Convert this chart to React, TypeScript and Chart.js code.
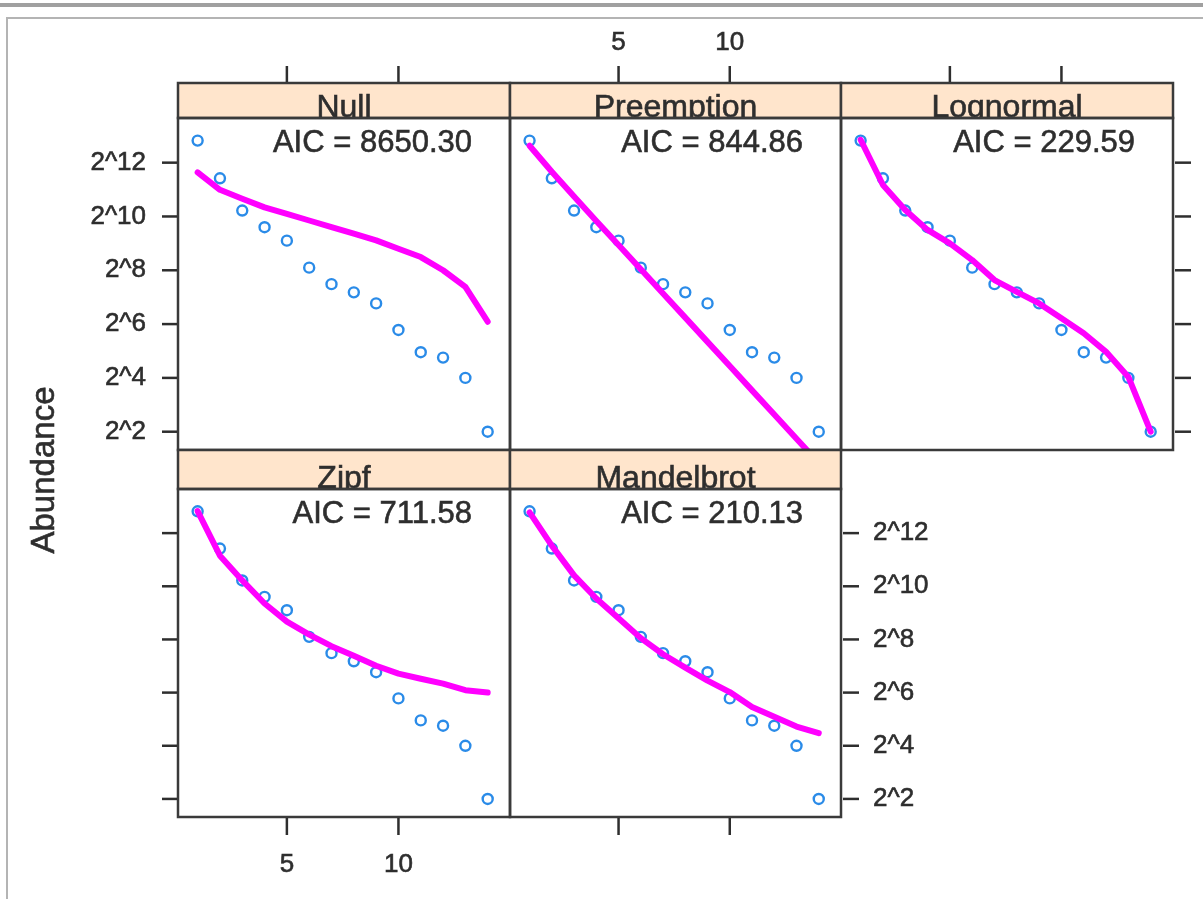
import React, { useEffect, useRef } from "react";
import { Chart, registerables } from "chart.js";
Chart.register(...registerables);

// ---------------- data ----------------
const ranks = [1, 2, 3, 4, 5, 6, 7, 8, 9, 10, 11, 12, 13, 14];
const observedAbundance = [7233, 2740, 1193, 776, 549, 274, 179, 145, 109, 55, 31, 27, 16, 4];
const fitNull = [3191, 2034, 1618, 1296, 1097, 923, 776, 657, 553, 446, 360, 256, 167, 68];
const fitPreemption = [6340, 3236, 1710, 910, 491, 263, 141, 75.6, 40.5, 21.7, 11.6, 6.23, 3.34, 1.79];
const fitLognormal = [7383, 2304, 1209, 724, 512, 333, 199, 147, 109, 74.6, 50.6, 31.3, 16.4, 4];
const fitZipf = [7282, 2273, 1193, 653, 407, 290, 215, 167, 129, 105, 91.8, 81, 68.1, 64];
const fitMandelbrot = [7034, 2957, 1361, 744, 446, 265, 174, 123, 87.4, 64.9, 44, 34.1, 26.4, 22.2];
const modelNames = ["Null", "Preemption", "Lognormal", "Zipf", "Mandelbrot"];
const aicLabels = ["AIC = 8650.30", "AIC = 844.86", "AIC = 229.59", "AIC = 711.58", "AIC = 210.13"];
const xTickValues = [5, 10];
const yTickValues = [4, 16, 64, 256, 1024, 4096];
const yAxisTitle = "Abundance";

// ---------------- layout / style ----------------
const W = 1203;
const H = 899;
const COLS = [178, 510, 841, 1173];
const ROWS = [
  { strip: 83, top: 118, bottom: 450 },
  { strip: 450, top: 489, bottom: 817 },
];
const X_MIN = 0.12;
const X_MAX = 15.0;
const Y_MIN = Math.pow(2, 1.32);
const Y_MAX = Math.pow(2, 13.66);
const FONT = '"Liberation Sans", Arial, Helvetica, sans-serif';
const TEXT = "#2e2e2e";
const BORDER = "#3a3a3a";
const STRIP_FILL = "#ffe5cc";
const POINT_COLOR = "#2a8be8";
const LINE_COLOR = "#ff00ff";

type Side = "none" | "ticks" | "labels";
interface PanelSpec {
  col: number;
  row: number;
  fit: number[];
  name: string;
  aic: string;
  top: Side;
  bottom: Side;
  left: Side;
  right: Side;
}

const PANELS: PanelSpec[] = [
  { col: 0, row: 0, fit: fitNull, name: modelNames[0], aic: aicLabels[0], top: "ticks", bottom: "none", left: "labels", right: "none" },
  { col: 1, row: 0, fit: fitPreemption, name: modelNames[1], aic: aicLabels[1], top: "labels", bottom: "none", left: "none", right: "none" },
  { col: 2, row: 0, fit: fitLognormal, name: modelNames[2], aic: aicLabels[2], top: "ticks", bottom: "none", left: "none", right: "ticks" },
  { col: 0, row: 1, fit: fitZipf, name: modelNames[3], aic: aicLabels[3], top: "none", bottom: "labels", left: "ticks", right: "none" },
  { col: 1, row: 1, fit: fitMandelbrot, name: modelNames[4], aic: aicLabels[4], top: "none", bottom: "ticks", left: "none", right: "labels" },
];

function yLabel(v: number) {
  return "2^" + Math.round(Math.log2(v));
}

function heavyText(ctx: CanvasRenderingContext2D, s: string, x: number, y: number) {
  ctx.fillText(s, x, y);
  ctx.save();
  ctx.lineWidth = 0.6;
  ctx.strokeStyle = ctx.fillStyle as string;
  ctx.strokeText(s, x, y);
  ctx.restore();
}

function drawFrame(ctx: CanvasRenderingContext2D) {
  ctx.save();
  ctx.fillStyle = "#a0a0a0";
  ctx.fillRect(0, 3, W, 4);
  ctx.strokeStyle = "#b4b4b4";
  ctx.lineWidth = 2;
  ctx.beginPath();
  ctx.moveTo(7, H);
  ctx.lineTo(7, 18);
  ctx.lineTo(W, 18);
  ctx.stroke();
  // y axis title
  ctx.translate(45, 470);
  ctx.rotate(-Math.PI / 2);
  ctx.fillStyle = TEXT;
  ctx.font = "33px " + FONT;
  ctx.textAlign = "center";
  ctx.textBaseline = "middle";
  heavyText(ctx, yAxisTitle, 0, 0);
  ctx.restore();
}

function makePlugin(spec: PanelSpec, index: number) {
  return {
    id: "latticePanel" + index,
    beforeDraw(chart: any) {
      if (index === 0) drawFrame(chart.ctx);
    },
    afterDraw(chart: any) {
      const ctx: CanvasRenderingContext2D = chart.ctx;
      const a = chart.chartArea;
      const xs = chart.scales.x;
      const ys = chart.scales.y;
      const g = ROWS[spec.row];
      const w = a.right - a.left;
      const sh = a.top - g.strip;
      ctx.save();
      // strip
      ctx.fillStyle = STRIP_FILL;
      ctx.fillRect(a.left, g.strip, w, sh);
      ctx.save();
      ctx.beginPath();
      ctx.rect(a.left, g.strip, w, sh);
      ctx.clip();
      ctx.fillStyle = TEXT;
      ctx.font = "32px " + FONT;
      ctx.textAlign = "center";
      ctx.textBaseline = "alphabetic";
      heavyText(ctx, spec.name, (a.left + a.right) / 2, a.top - 1.5);
      ctx.restore();
      // borders
      ctx.strokeStyle = BORDER;
      ctx.lineWidth = 2.5;
      ctx.strokeRect(a.left, g.strip, w, sh);
      ctx.strokeRect(a.left, a.top, w, a.bottom - a.top);
      // AIC text
      ctx.fillStyle = TEXT;
      ctx.font = "31px " + FONT;
      ctx.textAlign = "right";
      ctx.textBaseline = "middle";
      heavyText(ctx, spec.aic, a.right - 38, a.top + 25);
      // ticks
      ctx.strokeStyle = TEXT;
      ctx.lineWidth = 2.5;
      ctx.font = "26px " + FONT;
      if (spec.top !== "none") {
        xTickValues.forEach((v) => {
          const px = xs.getPixelForValue(v);
          ctx.beginPath();
          ctx.moveTo(px, g.strip - 1);
          ctx.lineTo(px, g.strip - 17);
          ctx.stroke();
          if (spec.top === "labels") {
            ctx.textAlign = "center";
            ctx.textBaseline = "middle";
            heavyText(ctx, String(v), px, g.strip - 40);
          }
        });
      }
      if (spec.bottom !== "none") {
        xTickValues.forEach((v) => {
          const px = xs.getPixelForValue(v);
          ctx.beginPath();
          ctx.moveTo(px, a.bottom + 1);
          ctx.lineTo(px, a.bottom + 18);
          ctx.stroke();
          if (spec.bottom === "labels") {
            ctx.textAlign = "center";
            ctx.textBaseline = "middle";
            heavyText(ctx, String(v), px, a.bottom + 48);
          }
        });
      }
      if (spec.left !== "none") {
        yTickValues.forEach((v) => {
          const py = ys.getPixelForValue(v);
          ctx.beginPath();
          ctx.moveTo(a.left - 1, py);
          ctx.lineTo(a.left - 16, py);
          ctx.stroke();
          if (spec.left === "labels") {
            ctx.textAlign = "right";
            ctx.textBaseline = "middle";
            heavyText(ctx, yLabel(v), a.left - 32, py);
          }
        });
      }
      if (spec.right !== "none") {
        yTickValues.forEach((v) => {
          const py = ys.getPixelForValue(v);
          ctx.beginPath();
          ctx.moveTo(a.right + 2, py);
          ctx.lineTo(a.right + 18, py);
          ctx.stroke();
          if (spec.right === "labels") {
            ctx.textAlign = "left";
            ctx.textBaseline = "middle";
            heavyText(ctx, yLabel(v), a.right + 32, py);
          }
        });
      }
      ctx.restore();
    },
  };
}

export default function App() {
  const refs = useRef<(HTMLCanvasElement | null)[]>([]);

  useEffect(() => {
    const charts = PANELS.map((spec, i) => {
      const canvas = refs.current[i] as HTMLCanvasElement;
      const g = ROWS[spec.row];
      return new Chart(canvas, {
        type: "scatter",
        data: {
          datasets: [
            {
              label: spec.name + " fit",
              data: ranks.map((r, k) => ({ x: r, y: spec.fit[k] })),
              showLine: true,
              borderColor: LINE_COLOR,
              backgroundColor: LINE_COLOR,
              borderWidth: 6,
              borderCapStyle: "round",
              borderJoinStyle: "round",
              pointRadius: 0,
              pointHoverRadius: 0,
              order: 0,
              clip: 0,
            } as any,
            {
              label: "observed",
              data: ranks.map((r, k) => ({ x: r, y: observedAbundance[k] })),
              showLine: false,
              pointStyle: "circle",
              pointRadius: 5,
              pointBorderWidth: 2.4,
              pointBorderColor: POINT_COLOR,
              pointBackgroundColor: "rgba(0,0,0,0)",
              order: 1,
              clip: 0,
            } as any,
          ],
        },
        options: {
          responsive: false,
          maintainAspectRatio: false,
          animation: false,
          devicePixelRatio: 1,
          events: [],
          layout: {
            padding: {
              left: COLS[spec.col],
              right: W - COLS[spec.col + 1],
              top: g.top,
              bottom: H - g.bottom,
            },
          },
          plugins: {
            legend: { display: false },
            title: { display: false },
            tooltip: { enabled: false },
          },
          scales: {
            x: { type: "linear", min: X_MIN, max: X_MAX, display: false },
            y: { type: "logarithmic", min: Y_MIN, max: Y_MAX, display: false },
          },
        },
        plugins: [makePlugin(spec, i)],
      } as any);
    });
    return () => charts.forEach((c) => c.destroy());
  }, []);

  return (
    <div style={{ position: "fixed", left: 0, top: 0, width: W, height: H, background: "#ffffff" }}>
      {PANELS.map((_, i) => (
        <canvas
          key={i}
          ref={(el) => {
            refs.current[i] = el;
          }}
          width={W}
          height={H}
          style={{ position: "absolute", left: 0, top: 0, width: W, height: H }}
        />
      ))}
    </div>
  );
}
